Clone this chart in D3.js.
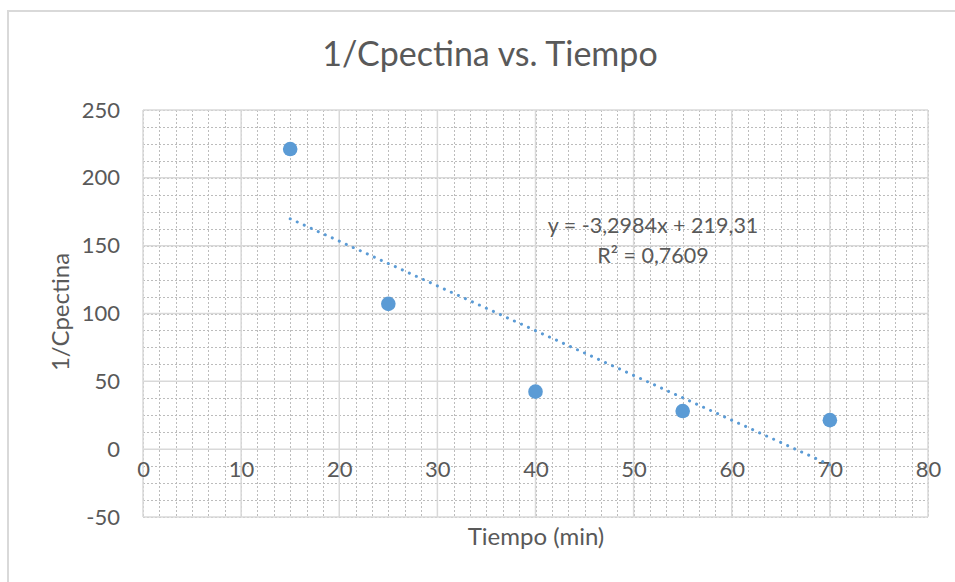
<!DOCTYPE html>
<html>
<head>
<meta charset="utf-8">
<script src="https://cdn.jsdelivr.net/npm/d3@7/dist/d3.min.js"></script>
<style>
  html, body { margin: 0; padding: 0; background: #fff; }
  svg { display: block; }
  text { font-family: Lato, "Open Sans", sans-serif; fill: #595959; }
</style>
</head>
<body>
<svg id="chart" width="955" height="582"></svg>
<script>
// Tiempo (min) and the measured 1/Cpectina at each time
const tiempo = [15, 25, 40, 55, 70];
const invCpectina = [221.2, 107.1, 42.4, 28.1, 21.4];

// Linear trendline fitted to the series
const trendSlope = -3.2984;
const trendIntercept = 219.31;
const trendR2 = 0.7609;

// Axis ticks
const xTickValues = [0, 10, 20, 30, 40, 50, 60, 70, 80];
const yTickValues = [-50, 0, 50, 100, 150, 200, 250];
const xMinorStep = 10 / 6;
const yMinorStep = 12.5;

const svg = d3.select("#chart");
const W = 955, H = 582;
const plot = { left: 143, right: 928, top: 110, bottom: 517 };

// Chart-area border
svg.append("rect")
  .attr("x", 8).attr("y", 11)
  .attr("width", W + 10).attr("height", H + 10)
  .attr("fill", "#fff")
  .attr("stroke", "#d9d9d9").attr("stroke-width", 2);

const x = d3.scaleLinear().domain([0, 80]).range([plot.left, plot.right]);
const y = d3.scaleLinear().domain([-50, 250]).range([plot.bottom, plot.top]);

// Minor gridlines (dotted)
const xMinor = d3.range(0, 80 + 1e-9, xMinorStep);
const yMinor = d3.range(-50, 250 + 1e-9, yMinorStep);
const minor = svg.append("g").attr("class", "minor-grid")
  .attr("stroke", "#bcbcbc").attr("stroke-width", 1)
  .attr("stroke-dasharray", "2,2");
minor.selectAll("line.v").data(xMinor).join("line").attr("class", "v")
  .attr("x1", d => Math.round(x(d)) + 0.5).attr("x2", d => Math.round(x(d)) + 0.5)
  .attr("y1", plot.top).attr("y2", plot.bottom);
minor.selectAll("line.h").data(yMinor).join("line").attr("class", "h")
  .attr("y1", d => Math.round(y(d)) + 0.5).attr("y2", d => Math.round(y(d)) + 0.5)
  .attr("x1", plot.left).attr("x2", plot.right);

// Major gridlines (solid)
const major = svg.append("g").attr("class", "major-grid")
  .attr("stroke", "#d9d9d9").attr("stroke-width", 1.5);
major.selectAll("line.v").data(xTickValues).join("line").attr("class", "v")
  .attr("x1", d => x(d)).attr("x2", d => x(d))
  .attr("y1", plot.top).attr("y2", plot.bottom);
major.selectAll("line.h").data(yTickValues).join("line").attr("class", "h")
  .attr("y1", d => y(d)).attr("y2", d => y(d))
  .attr("x1", plot.left).attr("x2", plot.right);

// Plain hyphen for negatives
const tickFmt = d => String(d);

// Y axis labels
const yAxis = d3.axisLeft(y).tickValues(yTickValues).tickSize(0).tickPadding(0)
  .tickFormat(tickFmt);
const gy = svg.append("g").attr("transform", `translate(${plot.left - 23},0)`).call(yAxis);
gy.select(".domain").remove();
gy.selectAll("text").attr("font-size", 22).attr("fill", "#595959")
  .attr("font-family", "Lato, sans-serif");

// X axis labels, hanging below the zero line
const xAxis = d3.axisBottom(x).tickValues(xTickValues).tickSize(0).tickPadding(0)
  .tickFormat(tickFmt);
const gx = svg.append("g").attr("transform", `translate(0,${y(0) + 21})`).call(xAxis);
gx.select(".domain").remove();
gx.selectAll("text").attr("font-size", 22).attr("fill", "#595959")
  .attr("font-family", "Lato, sans-serif").attr("dy", "0.32em");

// Trendline
const trendX = [d3.min(tiempo), d3.max(tiempo)];
svg.append("path")
  .datum(trendX)
  .attr("d", d3.line().x(d => x(d)).y(d => y(trendSlope * d + trendIntercept)))
  .attr("fill", "none")
  .attr("stroke", "#5b9bd5").attr("stroke-width", 3)
  .attr("stroke-linecap", "round")
  .attr("stroke-dasharray", "0.1,7.6");

// Data points
svg.append("g").selectAll("circle")
  .data(tiempo.map((t, i) => [t, invCpectina[i]]))
  .join("circle")
  .attr("cx", d => x(d[0])).attr("cy", d => y(d[1]))
  .attr("r", 7.3)
  .attr("fill", "#5b9bd5");

// Trendline equation
const fmt = v => String(v).replace(".", ",");
const eq = svg.append("g").attr("font-size", 21.5);
eq.append("text").attr("x", 653).attr("y", 233).attr("text-anchor", "middle")
  .text(`y = ${fmt(trendSlope)}x + ${fmt(trendIntercept)}`);
eq.append("text").attr("x", 653).attr("y", 263).attr("text-anchor", "middle")
  .text(`R² = ${fmt(trendR2)}`);

// Title
svg.append("text").attr("x", 490).attr("y", 66).attr("text-anchor", "middle")
  .attr("font-size", 34).text("1/Cpectina vs. Tiempo");

// Axis titles
svg.append("text").attr("x", 536).attr("y", 545).attr("text-anchor", "middle")
  .attr("font-size", 24).text("Tiempo (min)");
svg.append("text").attr("transform", "translate(69,312) rotate(-90)")
  .attr("text-anchor", "middle")
  .attr("font-size", 24).text("1/Cpectina");
</script>
</body>
</html>
